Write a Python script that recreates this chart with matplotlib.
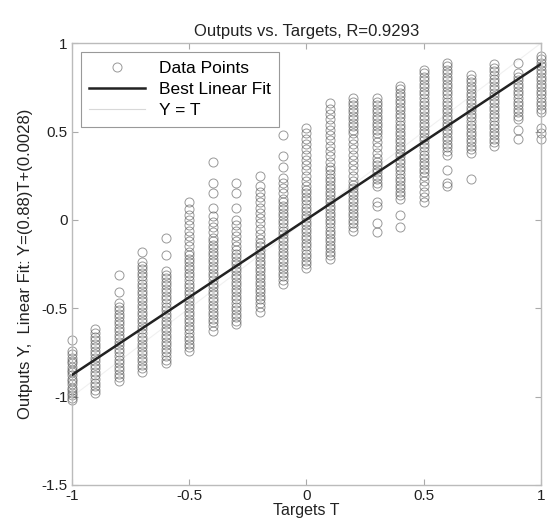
import numpy as np
import matplotlib
matplotlib.use('Agg')
import matplotlib.pyplot as plt

plt.rcParams['font.family'] = ['Liberation Sans', 'DejaVu Sans']

# targets (x) and outputs (y), one list per target value
targets = [-1.0, -0.9, -0.8, -0.7, -0.6, -0.5, -0.4, -0.3, -0.2, -0.1, 0.0,
           0.1, 0.2, 0.3, 0.4, 0.5, 0.6, 0.7, 0.8, 0.9, 1.0]

col_m10 = [-0.68, -0.74, -0.76, -0.78, -0.80, -0.81, -0.83, -0.85, -0.86, -0.88, -0.90, -0.91,
           -0.93, -0.95, -0.96, -0.98, -0.99, -1.01, -1.02]
col_m09 = [-0.62, -0.64, -0.66, -0.68, -0.70, -0.72, -0.74, -0.76, -0.78, -0.80, -0.82, -0.84,
           -0.86, -0.88, -0.90, -0.92, -0.94, -0.96, -0.98]
col_m08 = [-0.31, -0.41, -0.47, -0.49, -0.51, -0.53, -0.55, -0.57, -0.59, -0.61, -0.63, -0.65,
           -0.67, -0.69, -0.71, -0.73, -0.75, -0.77, -0.79, -0.81, -0.83, -0.85, -0.87, -0.89, -0.91]
col_m07 = [-0.18, -0.24, -0.26, -0.28, -0.30, -0.32, -0.34, -0.36, -0.38, -0.40, -0.42, -0.44,
           -0.46, -0.48, -0.50, -0.52, -0.54, -0.56, -0.58, -0.60, -0.62, -0.64, -0.66, -0.68,
           -0.70, -0.72, -0.74, -0.76, -0.78, -0.80, -0.82, -0.84, -0.86]
col_m06 = [-0.10, -0.20, -0.29, -0.31, -0.33, -0.35, -0.37, -0.39, -0.41, -0.43, -0.45, -0.47,
           -0.49, -0.51, -0.53, -0.55, -0.57, -0.59, -0.61, -0.63, -0.65, -0.67, -0.69, -0.71,
           -0.73, -0.75, -0.77, -0.79, -0.81]
col_m05 = [0.10, 0.06, 0.03, 0.00, -0.03, -0.06, -0.09, -0.12, -0.15, -0.18, -0.20, -0.22,
           -0.24, -0.26, -0.28, -0.30, -0.32, -0.34, -0.36, -0.38, -0.40, -0.42, -0.44, -0.46,
           -0.48, -0.50, -0.52, -0.54, -0.56, -0.58, -0.60, -0.62, -0.64, -0.66, -0.68, -0.70,
           -0.72, -0.74]
col_m04 = [0.33, 0.21, 0.15, 0.07, 0.02, -0.01, -0.04, -0.07, -0.10, -0.12, -0.14, -0.16,
           -0.18, -0.20, -0.22, -0.24, -0.26, -0.28, -0.30, -0.32, -0.34, -0.36, -0.38, -0.40,
           -0.42, -0.44, -0.46, -0.48, -0.50, -0.52, -0.54, -0.56, -0.58, -0.60, -0.63]
col_m03 = [0.21, 0.15, 0.07, 0.00, -0.03, -0.06, -0.09, -0.12, -0.15, -0.17, -0.19, -0.21,
           -0.23, -0.25, -0.27, -0.29, -0.31, -0.33, -0.35, -0.37, -0.39, -0.41, -0.43, -0.45,
           -0.47, -0.49, -0.51, -0.53, -0.55, -0.57, -0.59]
col_m02 = [0.25, 0.19, 0.16, 0.13, 0.10, 0.07, 0.04, 0.01, -0.02, -0.05, -0.08, -0.11, -0.13,
           -0.15, -0.17, -0.19, -0.21, -0.23, -0.25, -0.27, -0.29, -0.31, -0.33, -0.35, -0.37,
           -0.39, -0.41, -0.43, -0.45, -0.47, -0.49, -0.52]
col_m01 = [0.48, 0.36, 0.30, 0.24, 0.21, 0.18, 0.15, 0.12, 0.10, 0.08, 0.06, 0.04, 0.02, 0.00,
           -0.02, -0.04, -0.06, -0.08, -0.10, -0.12, -0.14, -0.16, -0.18, -0.20, -0.22, -0.24,
           -0.26, -0.28, -0.30, -0.32, -0.34, -0.36]
col_00 = [0.52, 0.49, 0.46, 0.43, 0.40, 0.37, 0.34, 0.31, 0.28, 0.25, 0.22, 0.19, 0.17, 0.15,
          0.13, 0.11, 0.09, 0.07, 0.05, 0.03, 0.01, -0.01, -0.03, -0.05, -0.07, -0.09, -0.11,
          -0.13, -0.15, -0.17, -0.19, -0.21, -0.23, -0.25, -0.27]
col_01 = [0.66, 0.63, 0.60, 0.57, 0.54, 0.51, 0.48, 0.45, 0.42, 0.39, 0.36, 0.33, 0.30, 0.28,
          0.26, 0.24, 0.22, 0.20, 0.18, 0.16, 0.14, 0.12, 0.10, 0.08, 0.06, 0.04, 0.02, 0.00,
          -0.02, -0.04, -0.06, -0.08, -0.10, -0.12, -0.14, -0.16, -0.18, -0.20, -0.22]
col_02 = [0.69, 0.67, 0.65, 0.63, 0.61, 0.59, 0.57, 0.55, 0.53, 0.51, 0.49, 0.46, 0.43, 0.40,
          0.37, 0.34, 0.31, 0.28, 0.25, 0.22, 0.20, 0.18, 0.16, 0.14, 0.12, 0.10, 0.08, 0.06,
          0.04, 0.02, 0.00, -0.02, -0.04, -0.06]
col_03 = [0.69, 0.67, 0.65, 0.63, 0.61, 0.59, 0.57, 0.55, 0.53, 0.51, 0.49, 0.47, 0.44, 0.41,
          0.38, 0.35, 0.33, 0.31, 0.29, 0.27, 0.25, 0.23, 0.21, 0.19, 0.10, 0.08, -0.02, -0.07]
col_04 = [0.76, 0.74, 0.72, 0.70, 0.68, 0.66, 0.64, 0.62, 0.60, 0.58, 0.56, 0.54, 0.52, 0.50,
          0.48, 0.46, 0.44, 0.42, 0.40, 0.38, 0.36, 0.34, 0.32, 0.30, 0.28, 0.26, 0.24, 0.22,
          0.20, 0.18, 0.16, 0.14, 0.12, 0.03, -0.04]
col_05 = [0.85, 0.83, 0.81, 0.79, 0.77, 0.75, 0.73, 0.71, 0.69, 0.67, 0.65, 0.63, 0.61, 0.59,
          0.57, 0.55, 0.53, 0.51, 0.49, 0.47, 0.45, 0.43, 0.41, 0.39, 0.37, 0.35, 0.33, 0.31,
          0.29, 0.27, 0.25, 0.22, 0.19, 0.16, 0.13, 0.10]
col_06 = [0.89, 0.87, 0.85, 0.83, 0.81, 0.79, 0.77, 0.75, 0.73, 0.71, 0.69, 0.67, 0.65, 0.63,
          0.61, 0.59, 0.57, 0.55, 0.53, 0.51, 0.49, 0.47, 0.45, 0.43, 0.41, 0.39, 0.37, 0.28,
          0.21, 0.19]
col_07 = [0.82, 0.80, 0.78, 0.76, 0.74, 0.72, 0.70, 0.68, 0.66, 0.64, 0.62, 0.60, 0.58, 0.56,
          0.54, 0.52, 0.50, 0.48, 0.46, 0.44, 0.42, 0.40, 0.38, 0.23]
col_08 = [0.88, 0.86, 0.84, 0.82, 0.80, 0.78, 0.76, 0.74, 0.72, 0.70, 0.68, 0.66, 0.64, 0.62,
          0.60, 0.58, 0.56, 0.54, 0.52, 0.50, 0.48, 0.46, 0.44, 0.42]
col_09 = [0.89, 0.83, 0.81, 0.79, 0.77, 0.75, 0.73, 0.71, 0.69, 0.67, 0.65, 0.63, 0.61, 0.59,
          0.57, 0.51, 0.46]
col_10 = [0.93, 0.91, 0.89, 0.87, 0.85, 0.83, 0.81, 0.79, 0.77, 0.75, 0.73, 0.71, 0.69, 0.67,
          0.65, 0.63, 0.61, 0.52, 0.49, 0.46]

outputs = [col_m10, col_m09, col_m08, col_m07, col_m06, col_m05, col_m04, col_m03,
           col_m02, col_m01, col_00, col_01, col_02, col_03, col_04, col_05,
           col_06, col_07, col_08, col_09, col_10]

fit_slope = 0.88
fit_offset = 0.0028
r_value = 0.9293

xs = []
ys = []
for t, col in zip(targets, outputs):
    xs += [t] * len(col)
    ys += col

fig = plt.figure(figsize=(5.47, 5.27), dpi=100)
ax = fig.add_axes([0.1316, 0.0797, 0.8574, 0.8383])

ax.plot(xs, ys, 'o', mfc='none', mec='#555555', mew=0.7, ms=6.5, alpha=0.6,
        clip_on=False, label='Data Points', zorder=2)
tline = np.array([-1.0, 1.0])
ax.plot(tline, fit_slope * tline + fit_offset, color='#222222', lw=1.8,
        label='Best Linear Fit', zorder=3)
ax.plot(tline, tline, color='#f0f0f0', lw=0.8, label='Y = T', zorder=1)

ax.set_xlim(-1, 1)
ax.set_ylim(-1.5, 1)
ax.set_xticks([-1, -0.5, 0, 0.5, 1])
ax.set_xticklabels(['-1', '-0.5', '0', '0.5', '1'])
ax.set_yticks([-1.5, -1, -0.5, 0, 0.5, 1])
ax.set_yticklabels(['-1.5', '-1', '-0.5', '0', '0.5', '1'])
ax.tick_params(direction='in', length=4, color='#aaaaaa', labelsize=11,
               top=True, right=True, labelcolor='#222222', pad=3)
for s in ax.spines.values():
    s.set_color('#bbbbbb')
    s.set_linewidth(1.0)

ax.set_title('Outputs vs. Targets, R=%.4f' % r_value, fontsize=12,
             color='#222222', pad=5)
ax.set_xlabel('Targets T', fontsize=11.5, color='#222222', labelpad=0)
ax.set_ylabel('Outputs Y,  Linear Fit: Y=(%.2g)T+(%.2g)' % (fit_slope, fit_offset),
              fontsize=12, color='#222222', labelpad=6)

leg = ax.legend(loc='upper left', fontsize=12.5, fancybox=False, framealpha=1,
                edgecolor='#999999', borderaxespad=0.5, handlelength=3.2,
                labelspacing=0.35, borderpad=0.5)
leg.get_frame().set_linewidth(0.8)
leg.get_lines()[2].set_color('#d8d8d8')

fig.savefig('out.png', dpi=100)
